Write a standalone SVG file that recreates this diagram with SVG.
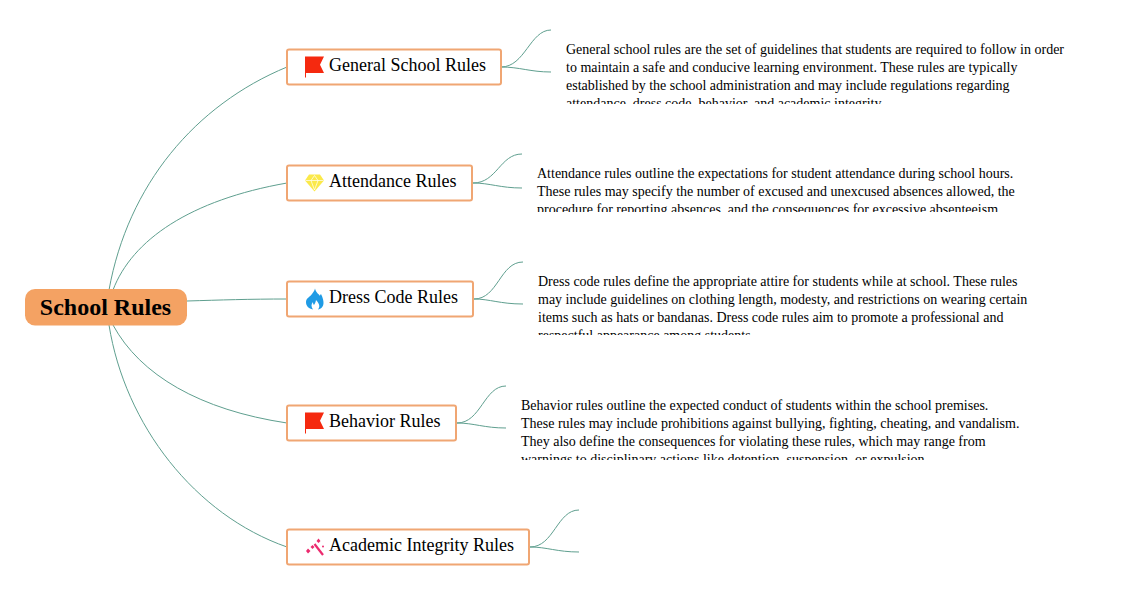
<svg xmlns="http://www.w3.org/2000/svg" width="1126" height="590" viewBox="0 0 1126 590">
<style>
text{font-family:"Liberation Serif","Times New Roman",serif;fill:#000}
.c{fill:none;stroke:#5f9f8f;stroke-width:1}
.b{fill:#fff;stroke:#f0a673;stroke-width:2}
.t{font-size:18px}
.d{font-size:14px}
</style>
<defs>
<clipPath id="c1"><rect x="560" y="30" width="520" height="74"/></clipPath>
<clipPath id="c2"><rect x="530" y="154" width="520" height="58"/></clipPath>
<clipPath id="c3"><rect x="530" y="262" width="520" height="73"/></clipPath>
<clipPath id="c4"><rect x="515" y="386" width="520" height="74"/></clipPath>
<g id="flag"><path d="M0 0H19L15 8.200L19 16.500H1V21H0Z" fill="#f5290f"/></g>
</defs>
<g id="connectors">
<path class="c" d="M109 290C128 185 195 105 287 67"/>
<path class="c" d="M113 290C132 240 190 200 287 183"/>
<path class="c" d="M187 301C220 300 250 299 287 299"/>
<path class="c" d="M113 325C140 375 200 410 287 423"/>
<path class="c" d="M109 325C125 425 195 515 287 547"/>
<path class="c" d="M501 67C525 67 530 30 551 30"/>
<path class="c" d="M501 67C520 67 530 72 551 72"/>
<path class="c" d="M473 183C497 183 500 154 522 154"/>
<path class="c" d="M473 183C490 183 500 188 522 188"/>
<path class="c" d="M474 299C498 299 500 262 523 262"/>
<path class="c" d="M474 299C490 299 500 304 523 304"/>
<path class="c" d="M457 423C481 423 484 386 506 386"/>
<path class="c" d="M457 423C474 423 484 428 506 428"/>
<path class="c" d="M530 547C554 547 557 510 579 510"/>
<path class="c" d="M530 547C547 547 557 552 579 552"/>
</g>
<g id="root">
<rect x="25" y="289" width="162" height="36.500" rx="10" fill="#f4a263"/>
<text x="105.500" y="315" font-size="24" font-weight="700" text-anchor="middle">School Rules</text>
</g>
<g id="n1">
<rect class="b" x="287" y="49.500" width="214" height="35" rx="2"/>
<use href="#flag" x="305" y="56.500"/>
<text class="t" x="329" y="71">General School Rules</text>
</g>
<g id="d1" clip-path="url(#c1)">
<text class="d" x="566" y="54">General school rules are the set of guidelines that students are required to follow in order</text>
<text class="d" x="566" y="72">to maintain a safe and conducive learning environment. These rules are typically</text>
<text class="d" x="566" y="90">established by the school administration and may include regulations regarding</text>
<text class="d" x="566" y="108">attendance, dress code, behavior, and academic integrity.</text>
</g>
<g id="n2">
<rect class="b" x="287" y="165.500" width="185" height="35" rx="2"/>
<path d="M309 174.500H320L324 180.500L314.500 191.500L305 180.500Z" fill="#fbe94a"/>
<path d="M305.500 180.500H323.500M311 180.500L314.500 190M318 180.500L314.500 190M311 180.500L314.500 175.500L318 180.500" fill="none" stroke="#fff" stroke-width=".7"/>
<text class="t" x="329" y="187">Attendance Rules</text>
</g>
<g id="d2" clip-path="url(#c2)">
<text class="d" x="537" y="178">Attendance rules outline the expectations for student attendance during school hours.</text>
<text class="d" x="537" y="196">These rules may specify the number of excused and unexcused absences allowed, the</text>
<text class="d" x="537" y="214">procedure for reporting absences, and the consequences for excessive absenteeism.</text>
</g>
<g id="n3">
<rect class="b" x="287" y="281.500" width="186" height="35" rx="2"/>
<path d="M315 288.500C316 293 319 294 320 296C320 295 320.500 294.500 321 294C323 298 323.500 301 323.500 303C323.500 306.500 321 309 318 309.500C320 307 320 304.500 316 300C315.500 303 314.500 304 314 305C313 304 313 303 313 302C311 304 311 307 313 309.500C308.500 308.500 306 306 306 302C306 298 310 297 312 294C313.500 292 314.500 290.500 315 288.500Z" fill="#1f9be5"/>
<text class="t" x="329" y="303">Dress Code Rules</text>
</g>
<g id="d3" clip-path="url(#c3)">
<text class="d" x="538" y="286">Dress code rules define the appropriate attire for students while at school. These rules</text>
<text class="d" x="538" y="304">may include guidelines on clothing length, modesty, and restrictions on wearing certain</text>
<text class="d" x="538" y="322">items such as hats or bandanas. Dress code rules aim to promote a professional and</text>
<text class="d" x="538" y="340">respectful appearance among students.</text>
</g>
<g id="n4">
<rect class="b" x="287" y="405.500" width="169" height="35" rx="2"/>
<use href="#flag" x="305" y="412.500"/>
<text class="t" x="329" y="427">Behavior Rules</text>
</g>
<g id="d4" clip-path="url(#c4)">
<text class="d" x="521" y="410">Behavior rules outline the expected conduct of students within the school premises.</text>
<text class="d" x="521" y="428">These rules may include prohibitions against bullying, fighting, cheating, and vandalism.</text>
<text class="d" x="521" y="446">They also define the consequences for violating these rules, which may range from</text>
<text class="d" x="521" y="464">warnings to disciplinary actions like detention, suspension, or expulsion.</text>
</g>
<g id="n5">
<rect class="b" x="287" y="529.500" width="242" height="35" rx="2"/>
<path d="M314.500 544L323 555" stroke="#ec2a6e" stroke-width="2.200" fill="none"/>
<path d="M308 548.500L310.500 551L308 553.500L306 551ZM312.500 545L314.500 547L312.500 549L310.500 547ZM318.500 538.500L320.500 541L318.500 543L316.500 541Z" fill="#ec2a6e"/>
<circle cx="323" cy="546.500" r="1" fill="#ec2a6e"/>
<text class="t" x="329" y="551">Academic Integrity Rules</text>
</g>
</svg>
